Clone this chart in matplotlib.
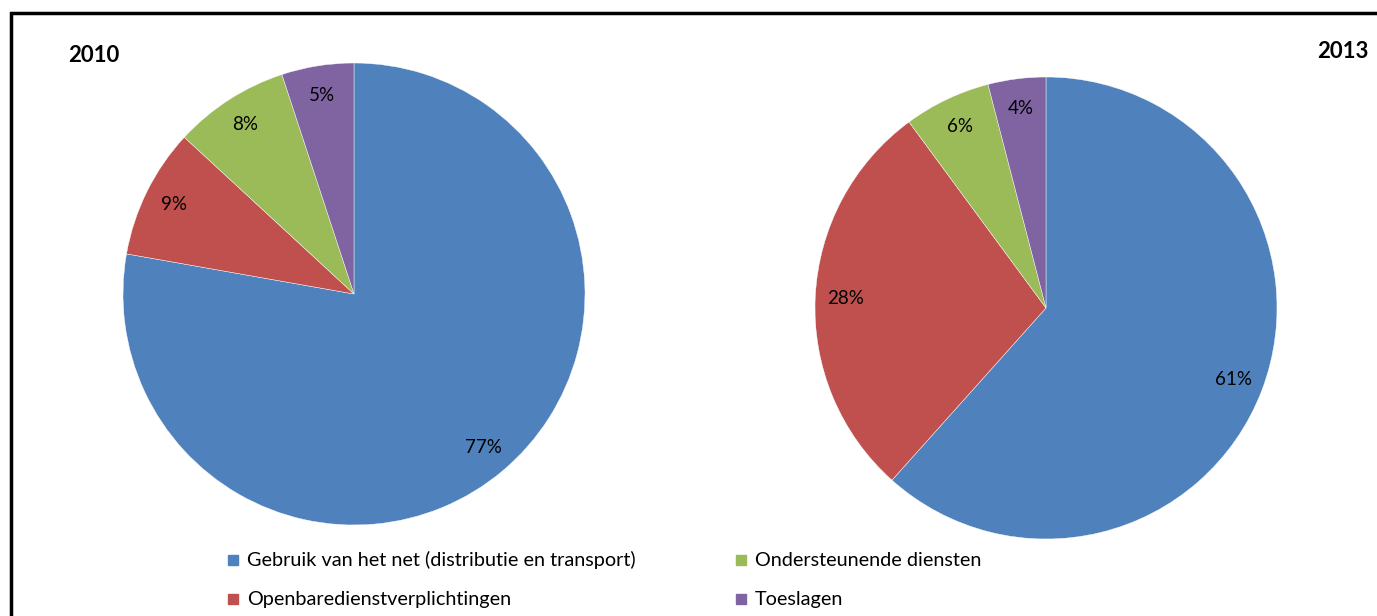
import matplotlib
matplotlib.use("Agg")
import matplotlib.pyplot as plt
from matplotlib.patches import Rectangle

# data
categories = ["Gebruik van het net (distributie en transport)",
              "Openbaredienstverplichtingen",
              "Ondersteunende diensten",
              "Toeslagen"]
values_2010 = [77, 9, 8, 5]
values_2013 = [61, 28, 6, 4]
years = ["2010", "2013"]
colors = ["#4F81BD", "#C0504D", "#9BBB59", "#8064A2"]

plt.rcParams['font.family'] = ['Lato', 'DejaVu Sans']

W, H = 1377, 616
fig = plt.figure(figsize=(W / 100, H / 100), dpi=100)


def px_axes(left, top, width, height):
    return fig.add_axes([left / W, 1 - (top + height) / H, width / W, height / H])


def draw_pie(ax, vals):
    total = sum(vals)
    ax.pie(vals, colors=colors, startangle=90, counterclock=False,
           autopct=lambda p: f"{round(p * total / 100)}%", pctdistance=0.87,
           wedgeprops=dict(edgecolor="white", linewidth=0.3),
           textprops=dict(fontsize=13.5, color="black"))
    ax.set_xlim(-1, 1)
    ax.set_ylim(-1, 1)
    ax.set_aspect("equal")
    ax.axis("off")


ax1 = px_axes(123, 63, 462, 462)
draw_pie(ax1, values_2010)
ax2 = px_axes(815, 77, 462, 462)
draw_pie(ax2, values_2013)

fig.text(68 / W, 1 - 55 / H, years[0], fontsize=16, fontweight="bold", va="center", ha="left")
fig.text(1368 / W, 1 - 51 / H, years[1], fontsize=16, fontweight="bold", va="center", ha="right")

# frame (cropped on right/bottom)
fig.add_artist(Rectangle((10.5 / W, -0.1), 1.2, 1 - 12.5 / H + 0.1,
                         transform=fig.transFigure, fill=False,
                         edgecolor="black", linewidth=2.5))

# legend, two columns
leg_pos = [(233, 560), (233, 599), (741, 560), (741, 599)]
for (x, y), lab, col in zip(leg_pos, categories, colors):
    fig.add_artist(Rectangle(((x - 5) / W, 1 - (y + 5) / H), 10 / W, 10 / H,
                             transform=fig.transFigure, color=col))
    fig.text((x + 14) / W, 1 - y / H, lab, fontsize=14.3, va="center", ha="left")

fig.savefig("out.png", dpi=100)
